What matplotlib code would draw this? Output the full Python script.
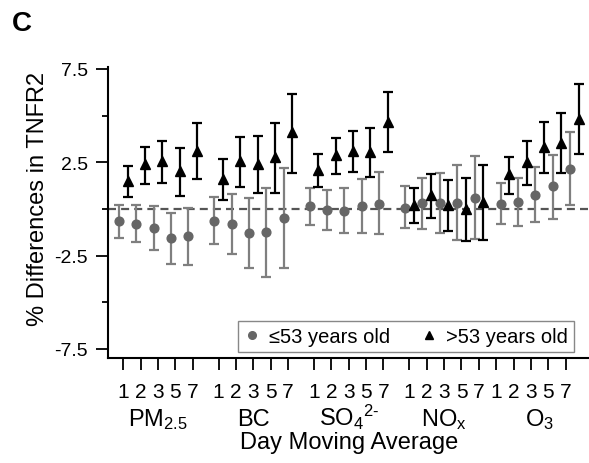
import matplotlib

matplotlib.use("Agg")
import matplotlib.pyplot as plt
import numpy as np
from matplotlib.lines import Line2D

plt.rcParams.update(
    {
        "font.family": ["Liberation Sans", "DejaVu Sans"],
        "mathtext.fontset": "custom",
        "mathtext.rm": "Liberation Sans",
        "mathtext.it": "Liberation Sans:italic",
        "mathtext.bf": "Liberation Sans:bold",
    }
)

# data
pollutants = [r"PM$_{2.5}$", "BC", r"SO$_4$$^{2\text{-}}$", r"NO$_\mathrm{x}$", r"O$_3$"]
lags = ["1", "2", "3", "5", "7"]

young_est = [-0.67, -0.78, -1.04, -1.57, -1.43,
             -0.62, -0.83, -1.28, -1.26, -0.48,
             0.14, -0.03, -0.11, 0.16, 0.29,
             0.07, 0.30, 0.30, 0.34, 0.61,
             0.29, 0.39, 0.77, 1.21, 2.15]
young_lo = [-1.54, -1.77, -2.20, -2.94, -2.98,
            -1.88, -2.41, -3.15, -3.65, -3.15,
            -0.85, -1.12, -1.31, -1.31, -1.35,
            -1.03, -1.08, -1.31, -1.66, -1.61,
            -0.83, -0.90, -0.71, -0.53, 0.20]
young_hi = [0.21, 0.21, 0.14, -0.21, 0.05,
            0.66, 0.78, 0.61, 1.12, 2.20,
            1.12, 1.01, 1.14, 1.63, 1.97,
            1.22, 1.65, 1.90, 2.36, 2.86,
            1.37, 1.67, 2.23, 2.91, 4.10]

old_est = [1.49, 2.41, 2.55, 2.02, 3.09,
           1.58, 2.59, 2.41, 2.77, 4.10,
           2.11, 2.87, 3.12, 3.05, 4.68,
           0.21, 0.75, 0.20, -0.02, 0.39,
           1.85, 2.50, 3.32, 3.56, 4.82]
old_lo = [0.64, 1.33, 1.38, 0.69, 1.58,
          0.46, 1.19, 0.84, 0.87, 1.94,
          1.19, 1.85, 1.97, 1.70, 3.07,
          -0.76, -0.51, -1.20, -1.73, -1.66,
          0.78, 1.28, 1.94, 1.94, 2.95]
old_hi = [2.32, 3.32, 3.62, 3.28, 4.63,
          2.68, 3.88, 3.92, 4.63, 6.17,
          2.95, 3.80, 4.19, 4.36, 6.24,
          1.14, 1.85, 1.53, 1.65, 2.36,
          2.77, 3.65, 4.65, 5.16, 6.67]

young_label = "\u226453 years old"
old_label = ">53 years old"

# layout
GROUP_START = [0, 5.5, 11, 16.5, 22]
TICK_START = [0, 5.5, 11, 16.5, 21.5]
DODGE = 0.25
W, H = 589, 464

pos = np.array([g + i for g in GROUP_START for i in range(len(lags))], dtype=float)
tick_pos = [g + i for g in TICK_START for i in range(len(lags))]

fig = plt.figure(figsize=(W / 100, H / 100), dpi=100)
ax = fig.add_axes([108.3 / W, 1 - 359.3 / H, 1 - 108.3 / W, (359.3 - 68.1) / H])

ax.axhline(0, color="#555555", lw=1.6, dashes=(3.6, 2.3), zorder=1)

ye = np.array(young_est)
oe = np.array(old_est)
ax.errorbar(pos - DODGE, ye, yerr=[ye - np.array(young_lo), np.array(young_hi) - ye],
            fmt="o", ms=6.3, color="#666666", ecolor="#7f7f7f", elinewidth=1.6,
            capsize=3.4, capthick=1.6, zorder=3)
ax.errorbar(pos + DODGE, oe, yerr=[oe - np.array(old_lo), np.array(old_hi) - oe],
            fmt="^", ms=7, color="black", ecolor="black", elinewidth=1.6,
            capsize=3.4, capthick=1.6, zorder=4)

ax.set_xlim(-0.86, 26.85)
ax.set_ylim(-8, 7.6)
ax.set_yticks([-7.5, -2.5, 2.5, 7.5])
ax.set_yticklabels(["-7.5", "-2.5", "2.5", "7.5"])
ax.set_yticks([-5, 0, 5], minor=True)
ax.set_xticks(tick_pos)
ax.set_xticklabels(lags * len(pollutants))

for side in ("top", "right"):
    ax.spines[side].set_visible(False)
for side in ("left", "bottom"):
    ax.spines[side].set_linewidth(1.5)
ax.tick_params(axis="both", which="major", length=8.6, width=1.3, pad=6)
ax.tick_params(axis="x", labelsize=15, pad=8.5)
ax.tick_params(axis="y", labelsize=14)
ax.tick_params(axis="y", which="minor", length=4.3, width=1.3)

for g, name in zip(GROUP_START, pollutants):
    ax.annotate(name, xy=(g + 2, 0), xycoords=("data", "axes fraction"),
                xytext=(0, -67 * 0.72), textcoords="offset points",
                ha="center", va="baseline", fontsize=17)

ax.annotate("Day Moving Average", xy=(13, 0), xycoords=("data", "axes fraction"),
            xytext=(0, -90 * 0.72), textcoords="offset points",
            ha="center", va="baseline", fontsize=17)

fig.text(38.5 / W, 1 - 198.5 / H, "% Differences in TNFR2", rotation=90,
         ha="center", va="center", fontsize=17)
fig.text(12 / W, 1 - 11 / H, "C", fontsize=20, fontweight="bold", ha="left", va="top")

handles = [
    Line2D([], [], ls="none", marker="o", ms=5.5, color="#666666"),
    Line2D([], [], ls="none", marker="^", ms=6, color="black"),
]
leg = ax.legend(handles, [young_label, old_label], ncol=2, loc="lower right",
                bbox_to_anchor=(0.969, 0.0206), borderaxespad=0, fontsize=14.5,
                frameon=True, fancybox=False, edgecolor="#888888", framealpha=1,
                handlelength=0.7, handletextpad=0.5, columnspacing=1.6,
                borderpad=0.3)
leg.get_frame().set_linewidth(1.0)

fig.savefig("out.png", dpi=100)
